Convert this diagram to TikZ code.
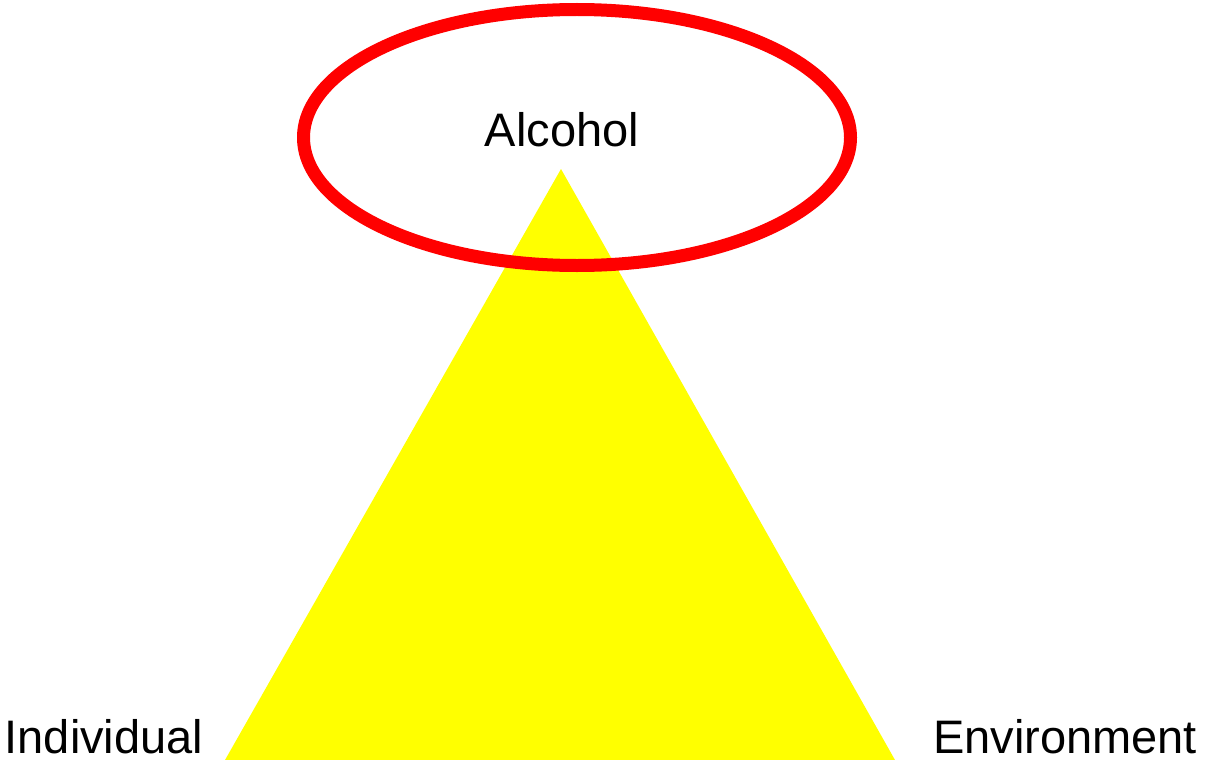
\documentclass[tikz,border=0pt]{standalone}
\usepackage{fontspec}
\setmainfont{Liberation Sans}
\begin{document}
\begin{tikzpicture}[x=1pt,y=-1pt,
  lbl/.style={font=\fontsize{47}{56}\selectfont, inner sep=0pt, anchor=base, text=black}]
\useasboundingbox (0,0) rectangle (1205,760);
\fill[white] (0,0) rectangle (1205,760);
\coordinate (bl) at (225,760);
\coordinate (apex) at (561,169);
\coordinate (br) at (895,760);
\fill[fill={rgb,255:red,255;green,255;blue,0}] (bl) -- (apex) -- (br) -- cycle;
\draw[draw={rgb,255:red,255;green,0;blue,0}, line width=13pt] (577,137.5) ellipse [x radius=273.5, y radius=128];
\node[lbl] (alc) at (562,146) {Alcohol};
\node[lbl] (ind) at (104,753) {Individual};
\node[lbl] (env) at (1065,753) {Environment};
\end{tikzpicture}
\end{document}
